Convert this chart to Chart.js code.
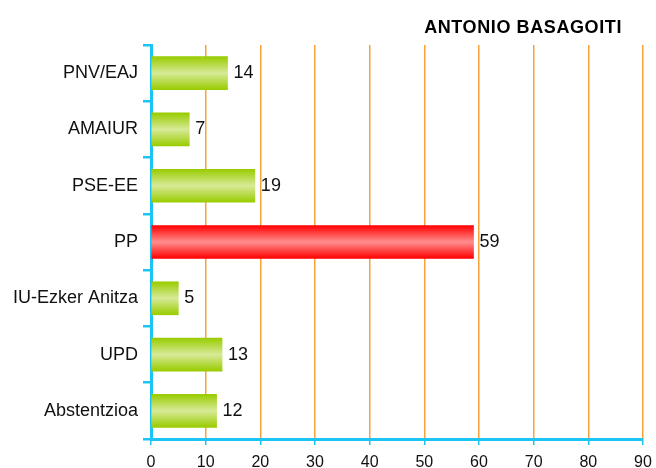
<!DOCTYPE html>
<html>
<head>
<meta charset="utf-8">
<script src="https://cdn.jsdelivr.net/npm/chart.js@4/dist/chart.umd.min.js"></script>
<style>
  html, body { margin: 0; padding: 0; background: #fff; }
  #wrap { width: 656px; height: 468px; }
</style>
</head>
<body>
<div id="wrap"><canvas id="votesChart" width="656" height="468"></canvas></div>
<script>
var chartTitle = 'ANTONIO BASAGOITI';
var parties = ['PNV/EAJ', 'AMAIUR', 'PSE-EE', 'PP', 'IU-Ezker Anitza', 'UPD', 'Abstentzioa'];
var votes = [14, 7, 19, 59, 5, 13, 12];
var highlighted = ['PP'];
var xTicks = [0, 10, 20, 30, 40, 50, 60, 70, 80, 90];

var axisBlue = '#1cc4f6';
var gridOrange = '#f7a23a';
var barHeight = 33;
var fontFamily = '"Liberation Sans", Arial, sans-serif';

// degradado vertical por barra: bordes oscuros, centro claro
function barGradient(context) {
    var chart = context.chart;
    if (!chart.chartArea) return '#9ccc00';
    var y = chart.scales.y.getPixelForValue(context.dataIndex);
    var g = chart.ctx.createLinearGradient(0, y - barHeight / 2, 0, y + barHeight / 2);
    var isHot = highlighted.indexOf(parties[context.dataIndex]) >= 0;
    if (isHot) {
        g.addColorStop(0, '#ff0000');
        g.addColorStop(0.5, '#ff8e8e');
        g.addColorStop(1, '#ff0000');
    } else {
        g.addColorStop(0, '#99cc00');
        g.addColorStop(0.5, '#d7ea98');
        g.addColorStop(1, '#99cc00');
    }
    return g;
}

var valueLabels = {
    id: 'valueLabels',
    afterDatasetsDraw: function(chart) {
        var ctx = chart.ctx;
        var meta = chart.getDatasetMeta(0);
        ctx.save();
        ctx.font = '18px ' + fontFamily;
        ctx.fillStyle = '#111';
        ctx.textAlign = 'left';
        ctx.textBaseline = 'middle';
        meta.data.forEach(function(bar, i) {
            ctx.fillText(votes[i], bar.x + 6, bar.y);
        });
        ctx.restore();
    }
};

var cornerTitle = {
    id: 'cornerTitle',
    afterDraw: function(chart) {
        var ctx = chart.ctx;
        ctx.save();
        ctx.font = 'bold 18px ' + fontFamily;
        ctx.letterSpacing = '0.6px';
        ctx.fillStyle = '#000';
        ctx.textAlign = 'right';
        ctx.textBaseline = 'middle';
        ctx.fillText(chartTitle, chart.chartArea.right - 21, 28);
        ctx.restore();
    }
};

new Chart(document.getElementById('votesChart'), {
    type: 'bar',
    data: {
        labels: parties,
        datasets: [{
            data: votes,
            backgroundColor: barGradient,
            borderWidth: 0,
            barThickness: barHeight
        }]
    },
    options: {
        indexAxis: 'y',
        responsive: false,
        animation: false,
        layout: { padding: { top: 45, right: 13, bottom: 0, left: 0 } },
        plugins: {
            legend: { display: false },
            tooltip: { enabled: false }
        },
        scales: {
            x: {
                min: 0,
                max: 90,
                afterBuildTicks: function(scale) {
                    scale.ticks = xTicks.map(function(v) { return { value: v }; });
                },
                afterFit: function(scale) {
                    scale.height = 29;
                    scale.paddingLeft = 0;
                    scale.paddingRight = 0;
                },
                border: { color: axisBlue, width: 3 },
                grid: {
                    color: gridOrange,
                    lineWidth: 1.5,
                    tickColor: axisBlue,
                    tickLength: 6
                },
                ticks: {
                    padding: 8,
                    color: '#111',
                    font: { family: fontFamily, size: 16 }
                }
            },
            y: {
                afterFit: function(scale) { scale.width = 151; },
                border: { color: axisBlue, width: 3 },
                grid: {
                    drawOnChartArea: false,
                    offset: true,
                    color: axisBlue,
                    tickColor: axisBlue,
                    lineWidth: 2.5,
                    tickLength: 8
                },
                ticks: {
                    padding: 5,
                    color: '#111',
                    font: { family: fontFamily, size: 18 }
                }
            }
        }
    },
    plugins: [valueLabels, cornerTitle]
});
</script>
</body>
</html>
